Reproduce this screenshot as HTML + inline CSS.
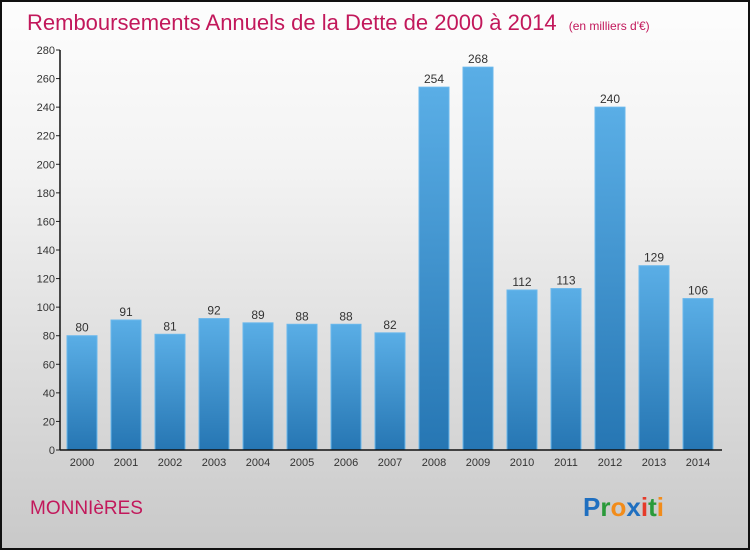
<!DOCTYPE html>
<html><head><meta charset="utf-8"><style>
html,body{margin:0;padding:0}
body{width:750px;height:550px;overflow:hidden;font-family:"Liberation Sans",sans-serif}
#frame{position:absolute;left:0;top:0;width:746px;height:546px;border:2px solid #111;background:linear-gradient(#fdfdfd,#f3f3f3 30%,#c9c9c9)}
</style></head><body>
<div id="frame"></div>
<svg width="750" height="550" style="position:absolute;left:0;top:0" id="chart">
<defs><linearGradient id="bg" x1="0" y1="0" x2="0" y2="1"><stop offset="0" stop-color="#5aaee6"/><stop offset="1" stop-color="#2676b3"/></linearGradient></defs>
<text x="27" y="30" font-size="22" fill="#c2185b">Remboursements Annuels de la Dette de 2000 à 2014 <tspan font-size="12" dx="6">(en milliers d'€)</tspan></text>
<text x="30" y="514" font-size="19" fill="#c2185b">MONNIèRES</text>
<text x="583" y="516" font-size="26" font-weight="bold"><tspan fill="#1f6fc0">P</tspan><tspan fill="#2a9a3a">r</tspan><tspan fill="#f28c1a">o</tspan><tspan fill="#1f6fc0">x</tspan><tspan fill="#e53b2a">i</tspan><tspan fill="#2a9a3a">t</tspan><tspan fill="#f28c1a">i</tspan></text>
<g id="plot"></g>
</svg>
<script>
const years=["2000","2001","2002","2003","2004","2005","2006","2007","2008","2009","2010","2011","2012","2013","2014"];
const values=[80,91,81,92,89,88,88,82,254,268,112,113,240,129,106];
const yTicks=[0,20,40,60,80,100,120,140,160,180,200,220,240,260,280];
const NS="http://www.w3.org/2000/svg";
const g=document.getElementById('plot');
const y0=450,yMax=280,ph=400,x0=60,step=44,bw=30;
const yS=v=>y0-v/yMax*ph;
const xC=i=>82+i*step;
function mk(t,a){const e=document.createElementNS(NS,t);for(const k in a)e.setAttribute(k,a[k]);g.appendChild(e);return e;}
yTicks.forEach(t=>{
  const l=mk('line',{x1:x0-4,x2:x0,y1:yS(t),y2:yS(t),stroke:'#222'});
  
  
  const tx=mk('text',{x:x0-5,y:yS(t)+4,'font-size':11,'text-anchor':'end',fill:'#333'});
  tx.textContent=t;
  
  
});
values.forEach((v,i)=>{
  const r=mk('rect',{x:xC(i)-bw/2,y:yS(v),width:bw,height:y0-yS(v),fill:'url(#bg)',stroke:'#6ab8ec','stroke-width':1});
  
  
  const vt=mk('text',{x:xC(i),y:yS(v)-4,'font-size':12,'text-anchor':'middle',fill:'#333'});
  vt.textContent=v;
  
  
  const xt=mk('text',{x:xC(i),y:466,'font-size':11,'text-anchor':'middle',fill:'#333'});
  xt.textContent=years[i];
  
  
});
const ya=mk('line',{x1:x0,x2:x0,y1:yS(280),y2:y0,stroke:'#111','stroke-width':1.5});


const xa=mk('line',{x1:x0,x2:722,y1:y0,y2:y0,stroke:'#111','stroke-width':1.5});


</script>
</body></html>
